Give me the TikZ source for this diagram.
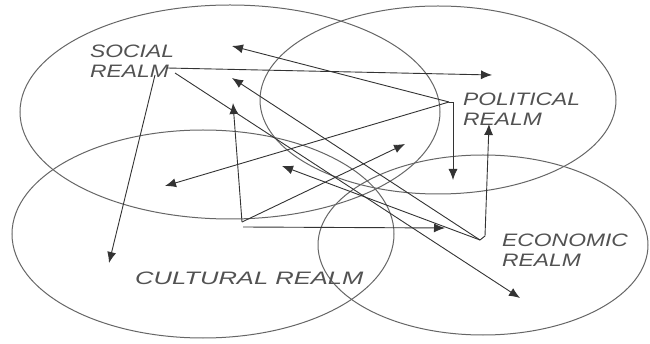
\documentclass[tikz,border=0pt]{standalone}
\usepackage{fontspec}
\setmainfont{Liberation Sans}
\usetikzlibrary{arrows.meta}
\newcommand{\realmtxt}[1]{\scalebox{1.27}[1]{#1}}
\begin{document}
\begin{tikzpicture}[x=1pt,y=-1pt,
  realm/.style={draw=black!60,line width=1pt},
  lab/.style={anchor=north west,inner sep=0pt,align=left,text=black!68,
    font=\fontsize{18}{20}\selectfont\itshape},
  link/.style={draw=black!80,line width=0.9pt,-{Latex[length=11pt,width=9pt]}}]
\path[use as bounding box,fill=white] (0,0) rectangle (650,344);
% realms
\draw[realm] (230,112) ellipse [x radius=210,y radius=107];
\draw[realm] (438,100) ellipse [x radius=178,y radius=94];
\draw[realm] (203,234) ellipse [x radius=191,y radius=104];
\draw[realm] (483,245) ellipse [x radius=165,y radius=90];
% labels
\node[lab] (soc) at (90,45) {\realmtxt{SOCIAL}\\\realmtxt{REALM}};
\node[lab] (pol) at (463,93) {\realmtxt{POLITICAL}\\\realmtxt{REALM}};
\node[lab] (eco) at (502,234) {\realmtxt{ECONOMIC}\\\realmtxt{REALM}};
\node[lab] (cul) at (135,272) {\scalebox{1.42}[1]{CULTURAL REALM}};
% hubs
\coordinate (sa) at (167,68);
\coordinate (sb) at (155,75);
\coordinate (sc) at (175,73);
\coordinate (ph) at (449,102);
\coordinate (ch) at (242,222);
\coordinate (ch2) at (243,227);
\coordinate (eh) at (480,240);
\coordinate (eh2) at (485,236);
% tips
\coordinate (t1) at (492,75);
\coordinate (t2) at (109,263);
\coordinate (t3) at (520,298);
\coordinate (t4) at (232,46);
\coordinate (t5) at (165,186);
\coordinate (t6) at (453,180);
\coordinate (t7) at (233,103);
\coordinate (t8) at (405,144);
\coordinate (t9) at (445,228);
\coordinate (t10) at (232,78);
\coordinate (t11) at (282,166);
\coordinate (t12) at (489,124);
% connectors
\draw[link] (sa) -- (t1);
\draw[link] (sb) -- (t2);
\draw[link] (sc) -- (t3);
\draw[link] (ph) -- (t4);
\draw[link] (ph) -- (t5);
\draw[link] (ph) -| (t6);
\draw[link] (ch) -- (t7);
\draw[link] (ch) -- (t8);
\draw[link] (ch2) -- (t9);
\draw[link] (eh) -- (t10);
\draw[link] (eh) -- (t11);
\draw[link] (eh) -- (eh2) -- (t12);
\end{tikzpicture}
\end{document}
